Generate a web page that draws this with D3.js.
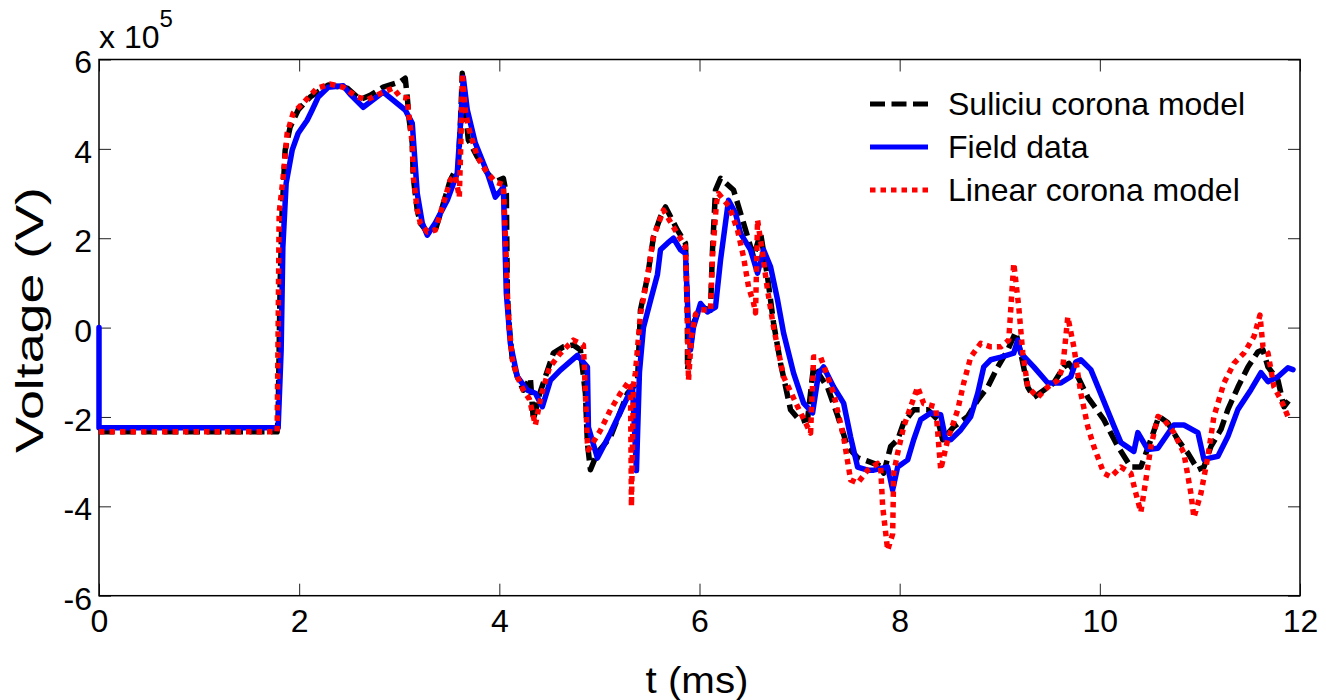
<!DOCTYPE html>
<html>
<head>
<meta charset="utf-8">
<script src="https://cdn.jsdelivr.net/npm/d3@7"></script>
<style>
  body { margin: 0; background: #fff; }
  svg text { font-family: "Liberation Sans", Arial, sans-serif; fill: #000; }
</style>
</head>
<body>
<svg id="chart"></svg>
<script>
// time in ms, voltage in units of 1e5 V (axis multiplier shown as "x 10^5")
let tSuliciu = [
  0, 1.78, 1.79, 1.81, 1.83, 1.86, 1.91, 1.99, 2.11, 2.29,
  2.48, 2.61, 2.71, 2.84, 3.01, 3.06, 3.08, 3.10, 3.13, 3.14,
  3.18, 3.21, 3.28, 3.36, 3.43, 3.51, 3.56, 3.59, 3.61, 3.63,
  3.66, 3.69, 3.78, 3.88, 3.96, 4.04, 4.07, 4.08, 4.10, 4.13,
  4.18, 4.24, 4.31, 4.34, 4.40, 4.46, 4.54, 4.64, 4.74, 4.81,
  4.86, 4.88, 4.91, 4.98, 5.11, 5.28, 5.35, 5.38, 5.41, 5.48,
  5.54, 5.61, 5.66, 5.78, 5.86, 5.88, 5.88, 5.94, 6.01, 6.11,
  6.13, 6.16, 6.21, 6.34, 6.44, 6.54, 6.61, 6.68, 6.74, 6.81,
  6.91, 7.01, 7.08, 7.14, 7.28, 7.38, 7.48, 7.58, 7.68, 7.81,
  7.84, 7.91, 7.98, 8.04, 8.14, 8.28, 8.38, 8.43, 8.54, 8.68,
  8.78, 8.88, 8.98, 9.08, 9.16, 9.21, 9.28, 9.34, 9.44, 9.54,
  9.64, 9.69, 9.78, 9.88, 10.04, 10.18, 10.31, 10.41, 10.51, 10.59,
  10.68, 10.78, 10.88, 10.98, 11.04, 11.11, 11.21, 11.28, 11.38, 11.48,
  11.58, 11.63, 11.68, 11.78, 11.84, 11.91
]
let vSuliciu = [
  -2.33, -2.33, -2.0, 1.0, 2.6, 3.97, 4.49, 4.87, 5.16, 5.43,
  5.36, 5.1, 5.2, 5.38, 5.5, 5.58, 5.16, 4.64, 4.13, 3.37,
  2.63, 2.34, 2.14, 2.18, 2.7, 3.3, 3.52, 3.6, 4.5, 5.69,
  4.87, 4.2, 3.82, 3.46, 3.26, 3.34, 3.0, 0.77, 0.01, -0.72,
  -1.1, -1.4, -1.13, -2.07, -1.5, -1.1, -0.57, -0.43, -0.39, -0.5,
  -1.47, -2.58, -3.18, -2.8, -2.45, -1.47, -1.3, -1.24, 0.39, 1.13,
  2.03, 2.48, 2.7, 2.18, 1.89, 0.24, -0.95, 0.1, 0.46, 0.39,
  1.74, 3.08, 3.34, 3.08, 2.34, 1.58, 2.12, 1.13, 0.1, -0.8,
  -1.84, -2.1, -2.05, -0.86, -1.34, -1.97, -2.67, -2.91, -2.99, -3.1,
  -3.26, -2.66, -2.51, -2.13, -1.84, -1.84, -2.06, -2.51, -2.22, -1.99,
  -1.62, -1.33, -0.88, -0.5, -0.1, -0.57, -1.33, -1.56, -1.4, -1.24,
  -0.88, -0.8, -1.1, -1.56, -2.06, -2.66, -3.12, -3.12, -2.51, -1.99,
  -2.13, -2.51, -2.81, -3.18, -3.12, -2.66, -2.28, -1.83, -1.33, -0.88,
  -0.54, -0.5, -0.88, -1.18, -1.77, -1.57
]

let tField = [
  0, 0, 1.79, 1.82, 1.837, 1.87, 1.93, 1.99, 2.08, 2.13,
  2.19, 2.29, 2.44, 2.51, 2.64, 2.84, 3.06, 3.13, 3.18, 3.23,
  3.28, 3.36, 3.48, 3.58, 3.61, 3.64, 3.68, 3.76, 3.88, 3.96,
  4.04, 4.07, 4.11, 4.18, 4.28, 4.36, 4.43, 4.51, 4.61, 4.78,
  4.88, 4.89, 4.98, 5.11, 5.28, 5.33, 5.37, 5.40, 5.44, 5.51,
  5.58, 5.61, 5.68, 5.74, 5.81, 5.86, 5.89, 5.91, 5.94, 6.01,
  6.08, 6.16, 6.21, 6.29, 6.36, 6.41, 6.51, 6.58, 6.64, 6.71,
  6.78, 6.84, 6.94, 7.04, 7.13, 7.19, 7.24, 7.34, 7.44, 7.51,
  7.58, 7.68, 7.74, 7.88, 7.93, 7.98, 8.08, 8.14, 8.21, 8.31,
  8.41, 8.46, 8.51, 8.61, 8.71, 8.78, 8.84, 8.91, 9.01, 9.14,
  9.18, 9.21, 9.34, 9.48, 9.61, 9.71, 9.76, 9.81, 9.91, 9.98,
  10.14, 10.21, 10.34, 10.38, 10.48, 10.58, 10.74, 10.84, 10.98, 11.04,
  11.18, 11.28, 11.38, 11.51, 11.61, 11.68, 11.78, 11.88, 11.93
]
let vField = [
  0, -2.24, -2.24, -0.5, 1.8, 3.23, 3.97, 4.35, 4.64, 4.87,
  5.16, 5.38, 5.41, 5.22, 4.93, 5.27, 4.87, 4.57, 3.0, 2.34,
  2.07, 2.34, 2.85, 3.46, 4.49, 5.6, 4.87, 4.13, 3.46, 2.92,
  3.14, 0.77, -0.35, -1.1, -1.4, -1.47, -1.77, -1.18, -0.95, -0.62,
  -0.88, -2.23, -2.92, -2.36, -1.56, -1.3, -3.2, -1.0, 0.0, 0.6,
  1.19, 1.74, 1.89, 2.0, 1.74, 1.66, 0.01, -0.5, 0.01, 0.54,
  0.35, 0.46, 1.51, 2.85, 2.56, 2.11, 1.74, 1.22, 1.74, 1.36,
  0.62, -0.12, -1.02, -1.69, -1.91, -1.02, -0.88, -1.33, -1.69, -2.45,
  -3.12, -3.19, -3.19, -3.12, -3.63, -3.12, -2.96, -2.51, -2.06, -1.91,
  -1.95, -2.51, -2.51, -2.29, -1.99, -1.47, -0.88, -0.72, -0.66, -0.57,
  -0.28, -0.57, -0.88, -1.24, -1.24, -1.1, -0.77, -0.72, -0.94, -1.32,
  -2.2, -2.57, -2.77, -2.35, -2.73, -2.7, -2.18, -2.18, -2.35, -2.95,
  -2.88, -2.43, -1.83, -1.39, -1.01, -1.21, -1.1, -0.9, -0.94
]

let tLinear = [
  0, 1.78, 1.79, 1.80, 1.84, 1.88, 1.94, 2.04, 2.18, 2.31,
  2.44, 2.58, 2.68, 2.84, 2.94, 3.01, 3.08, 3.09, 3.13, 3.14,
  3.18, 3.21, 3.28, 3.36, 3.43, 3.51, 3.56, 3.60, 3.62, 3.63,
  3.66, 3.69, 3.78, 3.88, 3.96, 4.04, 4.07, 4.08, 4.10, 4.13,
  4.18, 4.24, 4.30, 4.36, 4.42, 4.50, 4.60, 4.74, 4.84, 4.86,
  4.88, 4.89, 5.01, 5.11, 5.21, 5.29, 5.31, 5.32, 5.34, 5.36,
  5.41, 5.48, 5.54, 5.64, 5.70, 5.78, 5.86, 5.88, 5.89, 5.92,
  5.96, 6.01, 6.11, 6.13, 6.17, 6.19, 6.30, 6.38, 6.44, 6.49,
  6.54, 6.56, 6.58, 6.63, 6.68, 6.74, 6.84, 6.98, 7.11, 7.14,
  7.21, 7.34, 7.44, 7.51, 7.58, 7.68, 7.78, 7.81, 7.83, 7.88,
  7.93, 7.94, 7.98, 8.04, 8.11, 8.18, 8.24, 8.36, 8.41, 8.48,
  8.58, 8.64, 8.71, 8.81, 8.91, 9.01, 9.09, 9.14, 9.19, 9.23,
  9.28, 9.38, 9.48, 9.58, 9.63, 9.68, 9.74, 9.81, 9.88, 9.94,
  10.04, 10.11, 10.21, 10.31, 10.36, 10.41, 10.46, 10.51, 10.58, 10.64,
  10.74, 10.84, 10.91, 10.94, 11.01, 11.08, 11.14, 11.24, 11.34, 11.44,
  11.54, 11.60, 11.63, 11.68, 11.74, 11.81, 11.88
]
let vLinear = [
  -2.33, -2.33, 0.0, 2.56, 3.37, 4.35, 4.8, 5.03, 5.36, 5.45,
  5.38, 5.16, 5.1, 5.27, 5.36, 5.16, 5.14, 4.87, 4.13, 3.37,
  2.63, 2.34, 2.14, 2.18, 2.7, 3.3, 3.4, 2.92, 4.5, 5.69,
  4.87, 4.49, 3.82, 3.46, 3.26, 3.2, 1.52, 0.77, 0.01, -0.72,
  -1.1, -1.4, -1.6, -2.18, -1.5, -0.9, -0.6, -0.28, -0.39, -1.47,
  -2.58, -2.74, -2.3, -1.84, -1.47, -1.22, -1.24, -4.0, -1.3, -1.0,
  0.3, 1.13, 2.03, 2.63, 2.4, 2.1, 1.8, 0.0, -1.18, -0.2,
  0.3, 0.4, 0.39, 1.6, 2.8, 3.0, 2.7, 2.18, 1.58, 0.91,
  0.55, 0.33, 2.41, 1.66, 0.84, 0.01, -1.1, -1.77, -2.36, -0.66,
  -0.66, -1.47, -2.45, -3.41, -3.48, -3.19, -3.04, -3.12, -4.0, -4.98,
  -4.62, -3.26, -2.81, -2.22, -1.77, -1.33, -1.7, -1.77, -3.18, -2.51,
  -1.84, -1.24, -0.66, -0.35, -0.43, -0.43, -0.28, 1.44, 0.46, -0.57,
  -1.33, -1.56, -1.33, -1.18, -0.88, 0.24, -0.43, -1.47, -2.22, -2.66,
  -3.26, -3.34, -3.12, -3.26, -3.71, -4.13, -3.41, -2.66, -1.99, -2.06,
  -2.35, -2.81, -3.71, -4.25, -3.71, -2.88, -1.99, -1.24, -0.8, -0.57,
  -0.2, 0.28, -0.43, -0.57, -1.33, -1.62, -1.99
]

let seriesNames = ['Suliciu corona model', 'Field data', 'Linear corona model']
let xTicks = [0, 2, 4, 6, 8, 10, 12]
let yTicks = [-6, -4, -2, 0, 2, 4, 6]

let width = 1326
let height = 700
let plotLeft = 99, plotRight = 1300, plotTop = 59.5, plotBottom = 595.7

let svg = d3.select('#chart')
    .attr('width', width)
    .attr('height', height)

let xScale = d3.scaleLinear().domain([0, 12]).range([plotLeft, plotRight])
let yScale = d3.scaleLinear().domain([-6, 6]).range([plotBottom, plotTop])

// axes: MATLAB style ticks pointing inward on all four sides
let fontStack = '"Liberation Sans", Arial, sans-serif'
let plainNum = (d) => String(d)   // keep the ASCII hyphen as minus sign

let styleAxis = (g) => {
    g.select('.domain').remove()
    g.selectAll('.tick line').attr('stroke', '#222').attr('stroke-width', 1)
    g.selectAll('.tick text')
     .style('font-family', fontStack)
     .style('font-size', '32px')
     .attr('fill', '#000')
}

svg.append('g')
   .attr('transform', 'translate(0,' + plotBottom + ')')
   .call(d3.axisBottom(xScale).tickValues(xTicks).tickSize(-12).tickPadding(14).tickFormat(plainNum))
   .call(styleAxis)

svg.append('g')
   .attr('transform', 'translate(0,' + plotTop + ')')
   .call(d3.axisTop(xScale).tickValues(xTicks).tickSize(-12).tickFormat(''))
   .call(styleAxis)

svg.append('g')
   .attr('transform', 'translate(' + plotLeft + ',0)')
   .call(d3.axisLeft(yScale).tickValues(yTicks).tickSize(-12).tickPadding(7).tickFormat(plainNum))
   .call(styleAxis)
   .selectAll('.tick text').attr('dy', '0.42em')

svg.append('g')
   .attr('transform', 'translate(' + plotRight + ',0)')
   .call(d3.axisRight(yScale).tickValues(yTicks).tickSize(-12).tickFormat(''))
   .call(styleAxis)

svg.append('rect')
   .attr('x', plotLeft)
   .attr('y', plotTop)
   .attr('width', plotRight - plotLeft)
   .attr('height', plotBottom - plotTop)
   .attr('fill', 'none')
   .attr('stroke', '#000')
   .attr('stroke-width', 1.5)

// multiplier label
let mult = svg.append('text')
    .attr('x', plotLeft)
    .attr('y', 48)
    .style('font-size', '32px')
mult.append('tspan').text('x 10')
mult.append('tspan').attr('dy', -21).style('font-size', '24px').text('5')

// axis titles
svg.append('text')
   .attr('transform', 'translate(43,320) rotate(-90)')
   .attr('text-anchor', 'middle')
   .attr('textLength', 266)
   .attr('lengthAdjust', 'spacingAndGlyphs')
   .style('font-size', '39px')
   .text('Voltage (V)')

svg.append('text')
   .attr('x', 697)
   .attr('y', 693)
   .attr('text-anchor', 'middle')
   .attr('textLength', 103)
   .attr('lengthAdjust', 'spacingAndGlyphs')
   .style('font-size', '36px')
   .text('t (ms)')

// series
let line = d3.line()
    .x((d) => xScale(d[0]))
    .y((d) => yScale(d[1]))

let styles = [
    {color: '#000000', dash: '15,6.5', cap: 'butt'},
    {color: '#0000ff', dash: null, cap: 'round'},
    {color: '#ff0000', dash: '5.5,5', cap: 'butt'}
]

let series = [
    d3.zip(tSuliciu, vSuliciu),
    d3.zip(tField, vField),
    d3.zip(tLinear, vLinear)
]

series.forEach((pts, i) => {
    svg.append('path')
       .datum(pts)
       .attr('d', line)
       .attr('fill', 'none')
       .attr('stroke', styles[i].color)
       .attr('stroke-width', 5.5)
       .attr('stroke-linejoin', 'round')
       .attr('stroke-linecap', styles[i].cap)
       .attr('stroke-dasharray', styles[i].dash)
})

// legend (no box)
let legendY = [104, 147, 190]
let legend = svg.append('g')

seriesNames.forEach((name, i) => {
    legend.append('line')
          .attr('x1', 870).attr('x2', 928)
          .attr('y1', legendY[i]).attr('y2', legendY[i])
          .attr('stroke', styles[i].color)
          .attr('stroke-width', 5)
          .attr('stroke-dasharray', styles[i].dash)
    legend.append('text')
          .attr('x', 948)
          .attr('y', legendY[i] + 11)
          .style('font-size', '32px')
          .text(name)
})
</script>
</body>
</html>
